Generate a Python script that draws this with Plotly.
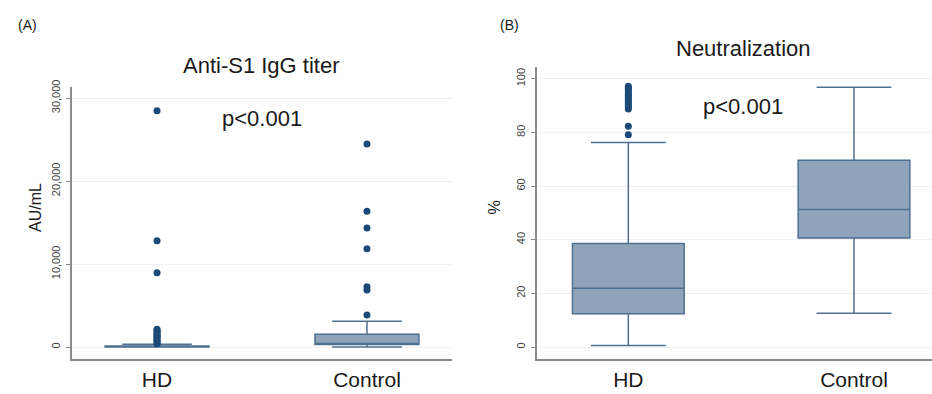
import plotly.graph_objects as go

W, H = 932, 394

groups = ["HD", "Control"]

# Panel A: Anti-S1 IgG titer (AU/mL)
igg_lower = [0, 0]
igg_q1 = [0, 300]
igg_median = [30, 420]
igg_q3 = [120, 1530]
igg_upper = [330, 3100]
igg_out_hd = [28470, 12810, 8960, 2150, 2000, 1850, 1700, 1550, 1400, 1250, 1100, 950, 800, 650, 500, 400]
igg_out_ctrl = [24460, 16350, 14340, 11840, 7270, 6870, 3860]

# Panel B: Neutralization (%)
neut_lower = [0.6, 12.6]
neut_q1 = [12.4, 40.6]
neut_median = [21.9, 51.3]
neut_q3 = [38.6, 69.6]
neut_upper = [76.2, 96.8]
neut_out_hd = [79.1, 82.3, 88.7, 89.4, 90.1, 90.8, 91.6, 92.3, 93.0, 93.8, 94.5, 95.2, 96.0, 96.6, 97.2]

igg_ticks = [0, 10000, 20000, 30000]
igg_ticktext = ["0", "10,000", "20,000", "30,000"]
neut_ticks = [0, 20, 40, 60, 80, 100]

FILL = "#8fa4ba"
LINE = "#4f6f90"
DOT = "#1b4a78"
FONT = "Liberation Sans, Arial, sans-serif"

fig = go.Figure()

fig.add_trace(go.Box(
    x=groups, q1=igg_q1, median=igg_median, q3=igg_q3,
    lowerfence=igg_lower, upperfence=igg_upper,
    fillcolor=FILL, line=dict(color=LINE, width=1.5),
    width=0.495, whiskerwidth=0.67, boxpoints=False,
    xaxis="x", yaxis="y", showlegend=False))
fig.add_trace(go.Scatter(
    x=["HD"] * len(igg_out_hd), y=igg_out_hd, mode="markers",
    marker=dict(color=DOT, size=7), xaxis="x", yaxis="y", showlegend=False))
fig.add_trace(go.Scatter(
    x=["Control"] * len(igg_out_ctrl), y=igg_out_ctrl, mode="markers",
    marker=dict(color=DOT, size=7), xaxis="x", yaxis="y", showlegend=False))

fig.add_trace(go.Box(
    x=groups, q1=neut_q1, median=neut_median, q3=neut_q3,
    lowerfence=neut_lower, upperfence=neut_upper,
    fillcolor=FILL, line=dict(color=LINE, width=1.5),
    width=0.495, whiskerwidth=0.67, boxpoints=False,
    xaxis="x2", yaxis="y2", showlegend=False))
fig.add_trace(go.Scatter(
    x=["HD"] * len(neut_out_hd), y=neut_out_hd, mode="markers",
    marker=dict(color=DOT, size=7), xaxis="x2", yaxis="y2", showlegend=False))


def px_x(v):
    return v / W


def px_y(v):
    return 1 - v / H


xaxis_common = dict(
    type="category", categoryorder="array", categoryarray=groups,
    showline=True, linecolor="#8a8a8a", linewidth=1.5,
    ticks="", showgrid=False, zeroline=False, automargin=False,
    tickfont=dict(family=FONT, size=21, color="#1a1a1a"),
    ticklabelstandoff=1,
)
yaxis_common = dict(
    showline=True, linecolor="#8a8a8a", linewidth=1.5,
    ticks="outside", ticklen=4, tickcolor="#8a8a8a", tickwidth=1,
    showgrid=True, gridcolor="#edf1f4", gridwidth=1, zeroline=False,
    automargin=False,
    tickangle=-90, tickfont=dict(family=FONT, size=11, color="#444444"),
    ticklabelstandoff=2,
)

fig.update_layout(
    width=W, height=H,
    margin=dict(l=0, r=0, t=0, b=0),
    paper_bgcolor="white", plot_bgcolor="white",
    font=dict(family=FONT),
    xaxis=dict(domain=[px_x(72), px_x(452)], range=[-0.405, 1.405],
               anchor="y", **xaxis_common),
    yaxis=dict(domain=[px_y(359), px_y(87)], range=[-1446, 31325],
               tickvals=igg_ticks, ticktext=igg_ticktext,
               anchor="x", **yaxis_common),
    xaxis2=dict(domain=[px_x(536.7), 1.0], range=[-0.406, 1.3456],
                anchor="y2", **xaxis_common),
    yaxis2=dict(domain=[px_y(359), px_y(66.7)], range=[-4.47, 104.5],
                tickvals=neut_ticks,
                anchor="x2", **yaxis_common),
)


def ann(text, x, y, size, color="#1a1a1a", angle=0):
    fig.add_annotation(text=text, x=px_x(x), y=px_y(y), xref="paper", yref="paper",
                       xanchor="center", yanchor="middle", showarrow=False,
                       textangle=angle, font=dict(family=FONT, size=size, color=color))


ann("(A)", 27.5, 25, 14)
ann("(B)", 510, 25, 14)
ann("Anti-S1 IgG titer", 261.7, 65.7, 22)
ann("Neutralization", 743, 48.3, 22)
ann("p<0.001", 261.5, 119, 22)
ann("p<0.001", 743, 106, 22)
ann("AU/mL", 35, 208, 16, angle=-90)
ann("%", 493.5, 208, 16, angle=-90)

fig.write_html("out.html")
